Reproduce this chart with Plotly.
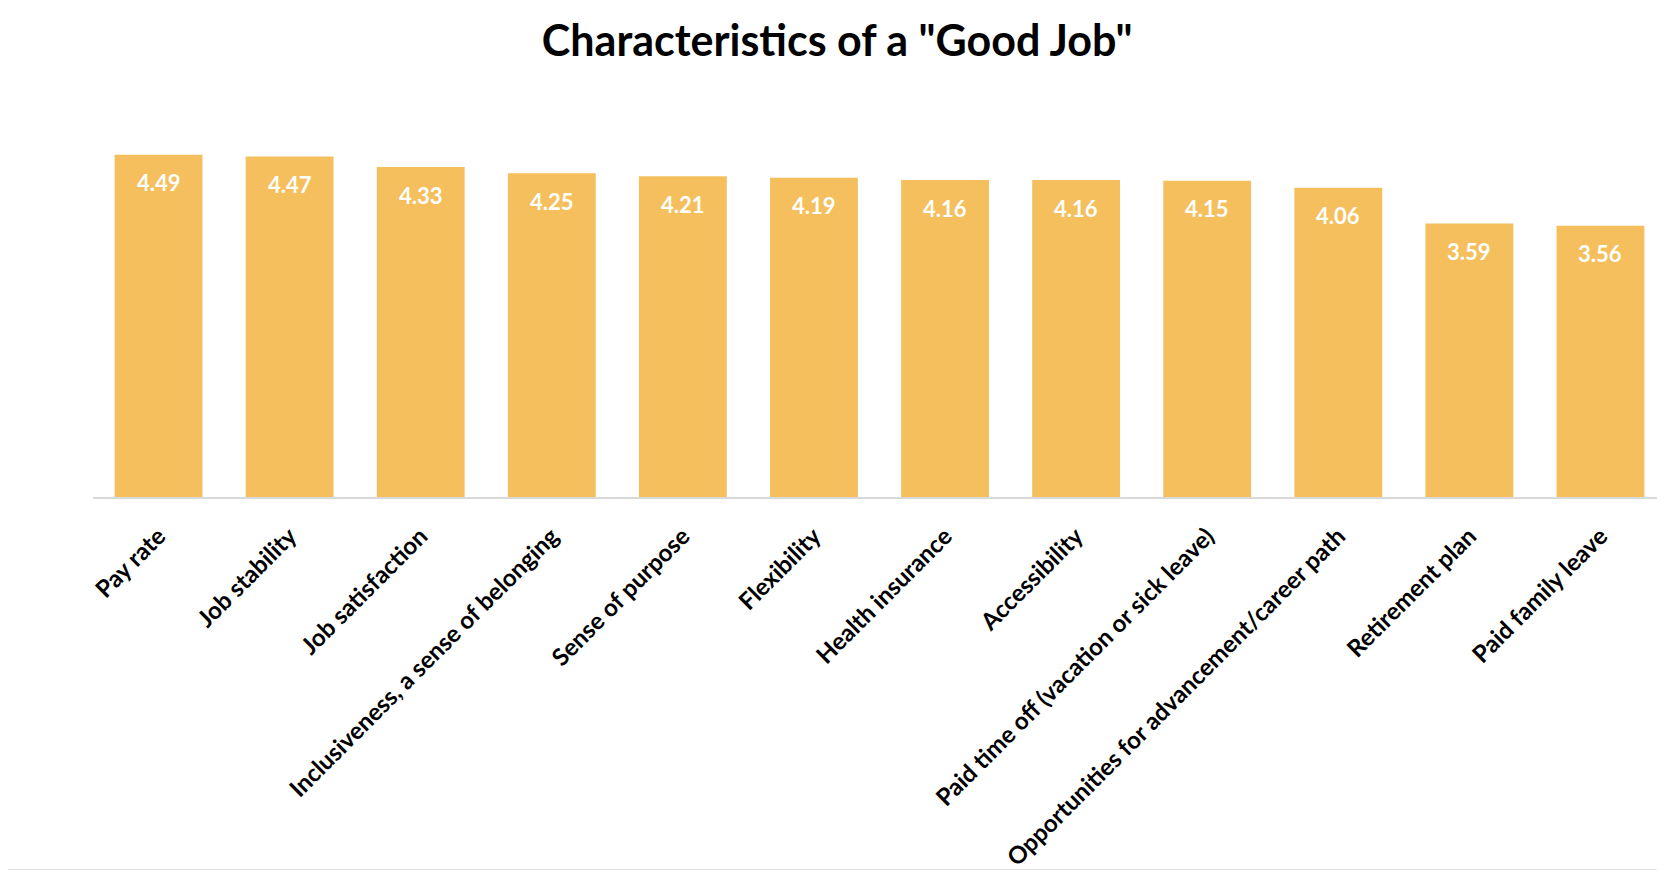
import plotly.graph_objects as go

categories = [
    "Pay rate", "Job stability", "Job satisfaction",
    "Inclusiveness, a sense of belonging", "Sense of purpose", "Flexibility",
    "Health insurance", "Accessibility", "Paid time off (vacation or sick leave)",
    "Opportunities for advancement/career path", "Retirement plan", "Paid family leave",
]
values = [4.49, 4.47, 4.33, 4.25, 4.21, 4.19, 4.16, 4.16, 4.15, 4.06, 3.59, 3.56]
title_text = 'Characteristics of a "Good Job"'

FONT = "Lato"
BAR_COLOR = "#F4BF5C"

fig = go.Figure()
fig.add_trace(go.Bar(
    x=categories, y=values,
    marker=dict(color=BAR_COLOR, line=dict(width=0)),
    hoverinfo="x+y",
))

annotations = [
    dict(x=c, y=v, xref="x", yref="y", text=f"{v:.2f}", showarrow=False,
         yshift=-28, font=dict(family=FONT, size=22, color="white", weight="bold"))
    for c, v in zip(categories, values)
]

fig.update_layout(
    width=1665, height=870,
    margin=dict(l=85, r=7, t=108, b=378),
    paper_bgcolor="white", plot_bgcolor="white",
    bargap=0.33,
    showlegend=False,
    title=dict(text=title_text, x=0.498, xanchor="center", y=0.962, yanchor="middle",
               font=dict(family=FONT, size=43, color="black", weight="bold")),
    annotations=annotations,
    shapes=[dict(type="line", xref="paper", yref="paper", x0=-0.06, x1=1.01,
                 y0=-0.979, y1=-0.979, line=dict(color="#e3e3e3", width=2))],
)
fig.update_xaxes(
    showline=True, linecolor="#d9d9d9", linewidth=1.5,
    tickangle=-45, ticks="", ticklabelstandoff=14,
    tickfont=dict(family=FONT, size=24, color="black", weight="bold"),
    showgrid=False,
)
fig.update_yaxes(range=[0, 5], visible=False, showgrid=False)

fig.write_html("out.html")
